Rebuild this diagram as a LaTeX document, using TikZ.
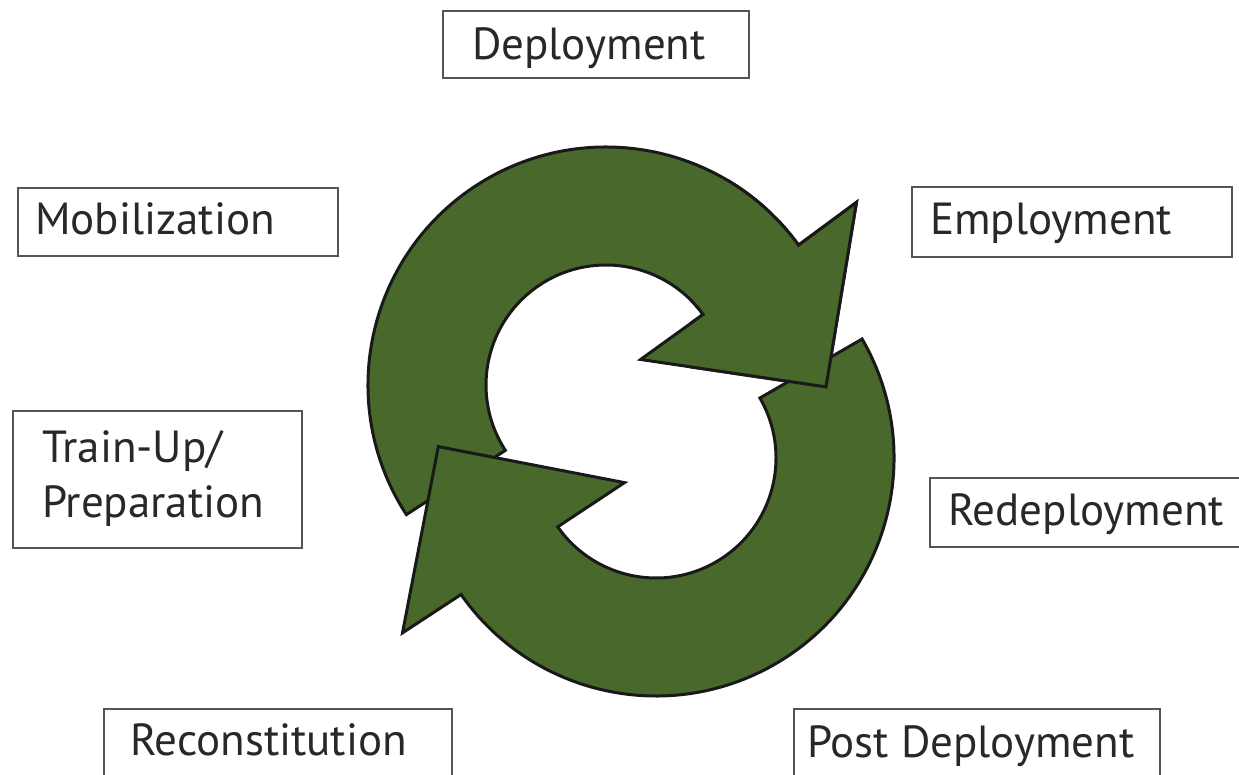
\documentclass[tikz,border=0pt]{standalone}
\usepackage{fontspec}
\setmainfont{PT Sans}
\definecolor{arrowgreen}{RGB}{72,104,44}
\definecolor{boxgray}{RGB}{85,85,85}
\definecolor{txtgray}{RGB}{40,40,40}
\begin{document}
\begin{tikzpicture}[x=1pt,y=1pt,
  box/.style={draw=boxgray, line width=2pt, fill=white, rectangle, inner sep=0pt, anchor=north west},
  lbl/.style={text=txtgray, font=\fontsize{45}{52}\selectfont, inner sep=0pt, anchor=base west},
  arrowshape/.style={fill=arrowgreen, draw=black!90, line width=3pt, line join=miter}]
\useasboundingbox (0,0) rectangle (1239,774);
\clip (0,0) rectangle (1239,774);

% boxes
\node[box, minimum width=306pt, minimum height=67pt] (bdep) at (442,764) {};
\node[lbl] (tdep) at (472,714) {Deployment};
\node[box, minimum width=320pt, minimum height=68pt] (bmob) at (17,587) {};
\node[lbl] (tmob) at (35,539) {Mobilization};
\node[box, minimum width=320pt, minimum height=70pt] (bemp) at (911,588) {};
\node[lbl] (temp) at (930,539) {Employment};
\node[box, minimum width=289pt, minimum height=137pt] (btrain) at (12,364) {};
\node[lbl] (ttrain) at (42,311) {Train-Up/};
\node[lbl] (tprep) at (42,256) {Preparation};
\node[box, minimum width=330pt, minimum height=69pt] (bred) at (929,297) {};
\node[lbl] (tred) at (948,248) {Redeployment};
\node[box, minimum width=348pt, minimum height=100pt] (brec) at (103,66) {};
\node[lbl] (trec) at (130,19) {Reconstitution};
\node[box, minimum width=366pt, minimum height=100pt] (bpost) at (793,66) {};
\node[lbl] (tpost) at (807,17) {Post Deployment};

% upper arrow
\begin{scope}[shift={(606,389)}]
\path[arrowshape] (213:238pt) arc[start angle=213, end angle=36, radius=238pt]
  -- (36.1:310pt) -- (-0.5:220pt) -- (36.4:43pt) -- (36:120pt)
  arc[start angle=36, end angle=213, radius=120pt] -- cycle;
\end{scope}
% lower arrow
\begin{scope}[shift={(656,316)}]
\path[arrowshape] (30:238pt) arc[start angle=30, end angle=-145, radius=238pt]
  -- (214.6:308pt) -- (177:218pt) -- (218:40pt) -- (215:120pt)
  arc[start angle=-145, end angle=30, radius=120pt] -- cycle;
\end{scope}
% upper arrow head again, on top of the lower arrow's tail
\begin{scope}
\clip (690,354) rectangle (900,594);
\begin{scope}[shift={(606,389)}]
\path[arrowshape] (213:238pt) arc[start angle=213, end angle=36, radius=238pt]
  -- (36.1:310pt) -- (-0.5:220pt) -- (36.4:43pt) -- (36:120pt)
  arc[start angle=36, end angle=213, radius=120pt] -- cycle;
\end{scope}
\end{scope}
\end{tikzpicture}
\end{document}
